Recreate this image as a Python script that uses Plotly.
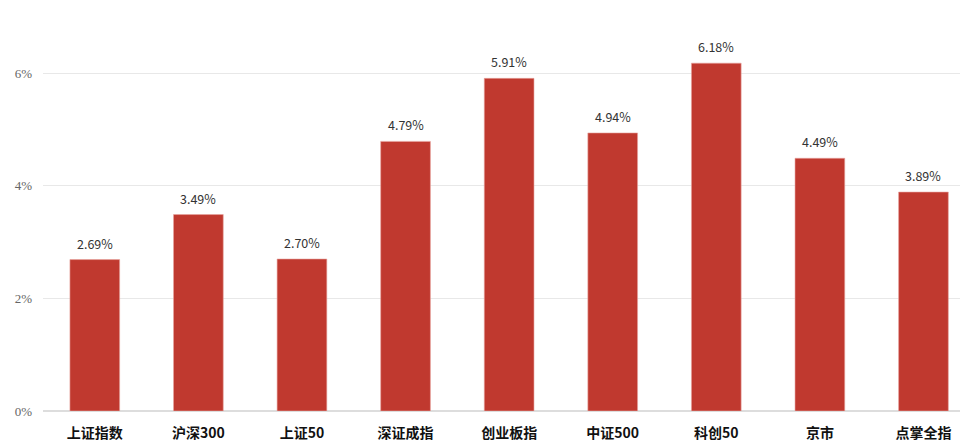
import plotly.graph_objects as go

categories = ["上证指数", "沪深300", "上证50", "深证成指", "创业板指", "中证500", "科创50", "京市", "点掌全指"]
values = [2.69, 3.49, 2.70, 4.79, 5.91, 4.94, 6.18, 4.49, 3.89]
tick_vals = [0, 2, 4, 6]
tick_text = ["0%", "2%", "4%", "6%"]

xs = list(range(len(categories)))

fig = go.Figure()
fig.add_trace(go.Bar(
    x=xs,
    y=values,
    width=0.48,
    marker=dict(color="#c0392f", line=dict(color="#e8a59f", width=0.6)),
    hoverinfo="x+y",
))

# value labels above the bars
for i, v in zip(xs, values):
    fig.add_annotation(
        x=i, y=v, text="%.2f%%" % v,
        showarrow=False, yanchor="bottom", yshift=5,
        font=dict(family="Noto Sans CJK SC", size=12.5, color="#333333"),
    )

# page has an 8px body margin, so offsets are taken off here
fig.update_layout(
    width=968, height=443,
    margin=dict(l=35, r=8, t=9, b=40, autoexpand=False),
    plot_bgcolor="white",
    paper_bgcolor="white",
    showlegend=False,
    xaxis=dict(
        tickmode="array",
        tickvals=xs,
        ticktext=["<b>%s</b>" % c for c in categories],
        range=[-0.5, 8.43],
        showgrid=False,
        zeroline=False,
        showline=False,
        ticks="",
        automargin=False,
        ticklabelstandoff=12,
        tickfont=dict(family="Noto Sans CJK SC", size=14, color="#111111"),
    ),
    yaxis=dict(
        range=[0, 7],
        tickmode="array",
        tickvals=tick_vals,
        ticktext=tick_text,
        showgrid=True,
        gridcolor="#e8e8e8",
        gridwidth=1,
        zeroline=True,
        zerolinecolor="#dddddd",
        zerolinewidth=2,
        ticks="",
        automargin=False,
        ticklabelstandoff=10,
        tickfont=dict(family="Liberation Serif", size=13, color="#666666"),
    ),
)

fig.write_html("out.html")
